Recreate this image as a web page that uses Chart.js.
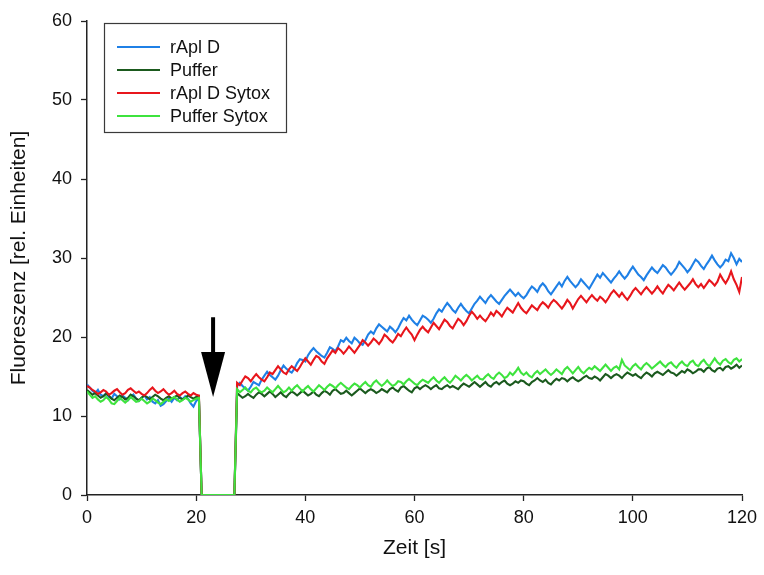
<!DOCTYPE html>
<html>
<head>
<meta charset="utf-8">
<script src="https://cdn.jsdelivr.net/npm/chart.js@4.4.1/dist/chart.umd.min.js"></script>
<style>
  html, body { margin: 0; padding: 0; background: #fff; }
  #wrap { width: 764px; height: 575px; }
</style>
</head>
<body>
<div id="wrap"><canvas id="c" width="764" height="575"></canvas></div>
<script>
// Fluorescence readings, one every 0.5 s from 0 to 120 s.
// 0–20.5 s baseline, 21–27 s addition (no signal), 27.5–120 s after addition.
const SAMPLE_STEP = 0.5;

const seriesLabels = ['rApl D', 'Puffer', 'rApl D Sytox', 'Puffer Sytox'];
const seriesColors = ['#1f80e6', '#1b5a1e', '#e8161c', '#3ee33e'];
const xTicks = [0, 20, 40, 60, 80, 100, 120];
const yTicks = [0, 10, 20, 30, 40, 50, 60];

const rAplD = [
  14.0, 13.6, 13.2, 12.9, 13.3, 12.7, 12.5, 12.9, 12.4, 12.2,
  12.8, 12.5, 12.1, 12.6, 12.3, 12.0, 12.4, 12.7, 12.2, 11.9,
  12.3, 12.6, 12.1, 12.4, 11.8, 11.6, 12.0, 11.3, 11.5, 11.9,
  12.2, 11.8, 12.3, 12.0, 12.4, 12.1, 12.5, 12.2, 11.6, 11.2,
  11.9, 12.3,
  0, 0, 0, 0, 0, 0, 0, 0, 0, 0, 0, 0, 0,
  13.8, 14.2, 13.8, 13.5, 13.2, 13.7, 14.3, 14.1, 13.9, 14.6,
  15.1, 15.6, 15.2, 14.9, 14.6, 15.1, 15.8, 16.4, 16.0, 15.7,
  15.5, 16.0, 16.7, 17.2, 17.1, 16.9, 17.7, 18.2, 18.6, 18.2,
  17.9, 17.6, 17.4, 18.0, 18.7, 18.5, 18.2, 18.8, 19.6, 19.4,
  19.9, 19.5, 19.2, 19.9, 19.6, 19.2, 19.0, 19.6, 20.3, 20.7,
  20.4, 21.1, 21.6, 21.3, 21.0, 20.7, 21.3, 21.0, 20.6, 21.1,
  21.8, 22.4, 22.1, 22.7, 22.2, 21.8, 21.5, 22.1, 22.7, 22.5,
  22.2, 21.8, 22.3, 23.0, 23.5, 23.2, 23.8, 24.3, 23.9, 23.4,
  23.1, 23.7, 24.2, 23.7, 23.3, 23.0, 23.6, 24.2, 24.6, 25.1,
  24.7, 24.3, 24.9, 25.3, 24.9, 24.5, 24.2, 24.7, 25.2, 25.6,
  26.0, 25.6, 25.2, 25.6, 25.2, 24.9, 25.3, 25.9, 26.4, 26.1,
  25.7, 26.4, 26.8, 26.4, 25.8, 25.4, 25.9, 26.4, 26.9, 26.4,
  27.1, 27.6, 27.1, 26.7, 26.3, 26.7, 27.3, 26.9, 26.5, 26.1,
  26.7, 27.3, 27.9, 27.5, 28.1, 27.7, 27.3, 26.9, 27.4, 27.8,
  28.3, 27.8, 27.4, 27.8, 28.4, 28.9, 28.4, 27.9, 27.6, 27.2,
  27.8, 28.3, 28.8, 28.4, 28.1, 28.6, 29.1, 28.8, 28.3, 27.9,
  28.3, 28.8, 29.5, 29.1, 28.7, 28.2, 28.6, 29.2, 29.8, 29.5,
  29.0, 28.6, 29.2, 29.7, 30.3, 29.7, 29.2, 28.8, 29.2, 29.8,
  29.6, 30.6, 30.0, 29.2, 29.9, 29.5
];

const puffer = [
  13.3, 13.0, 12.7, 12.9, 12.6, 12.3, 12.5, 12.8, 12.6, 12.2,
  12.0, 12.3, 12.6, 12.4, 12.1, 12.3, 12.7, 12.5, 12.2, 12.0,
  12.3, 12.6, 12.4, 12.1, 12.4, 12.7, 12.5, 12.2, 12.0, 12.3,
  12.5, 12.2, 12.4, 12.6, 12.3, 12.1, 12.3, 12.6, 12.4, 12.2,
  12.4, 12.5,
  0, 0, 0, 0, 0, 0, 0, 0, 0, 0, 0, 0, 0,
  12.9, 12.6, 12.3, 12.5, 12.8, 12.5, 12.3, 12.7, 13.0, 12.8,
  12.5, 12.8, 13.1, 12.8, 12.4, 12.7, 13.0, 12.6, 12.4, 12.8,
  13.1, 12.9, 12.6, 12.9, 13.2, 12.9, 12.6, 12.8, 13.1, 12.7,
  12.5, 12.9, 13.2, 13.0, 12.7, 13.2, 13.4, 13.1, 12.8, 12.9,
  13.2, 12.9, 12.6, 12.9, 13.2, 13.5, 13.2, 12.9, 13.2, 13.4,
  13.2, 12.9, 13.1, 13.4, 13.2, 13.0, 13.4, 13.6, 13.3, 13.1,
  13.6, 13.8, 13.5, 13.2, 13.0, 13.5, 13.7, 13.4, 13.7, 13.9,
  13.7, 13.4, 13.7, 13.9, 13.5, 13.4, 13.7, 13.9, 13.6, 13.8,
  13.6, 13.4, 13.8, 14.1, 13.9, 13.7, 14.0, 14.3, 14.0, 13.7,
  14.0, 14.3, 13.9, 13.7, 14.1, 14.3, 14.0, 14.3, 14.5, 14.1,
  13.9, 14.1, 14.4, 14.2, 14.5, 14.4, 14.1, 13.9, 14.3, 14.5,
  14.8, 14.5, 14.3, 14.6, 14.2, 14.0, 14.4, 14.7, 14.5, 14.8,
  14.7, 14.4, 14.7, 14.9, 14.6, 14.4, 14.6, 14.9, 15.1, 14.8,
  14.7, 15.0, 14.8, 14.5, 14.9, 15.3, 15.1, 14.8, 15.1, 15.3,
  15.1, 14.8, 15.2, 15.5, 15.3, 15.1, 15.3, 15.0, 14.8, 15.2,
  15.5, 15.3, 15.0, 15.4, 15.6, 15.4, 15.2, 15.5, 15.8, 15.5,
  15.4, 15.1, 15.4, 15.7, 15.5, 15.9, 15.7, 15.4, 15.6, 15.9,
  15.9, 15.6, 16.0, 16.2, 15.8, 15.6, 16.0, 16.1, 15.8, 16.2,
  16.3, 16.0, 16.2, 16.5, 16.1, 16.4
];

const rAplDSytox = [
  13.8, 13.6, 13.3, 13.1, 12.8, 13.0, 13.3, 13.1, 12.7, 12.9,
  13.2, 13.4, 13.0, 12.7, 12.9, 13.3, 13.5, 13.2, 12.9, 13.1,
  12.8, 12.6, 12.9, 13.3, 13.6, 13.2, 12.9, 13.1, 13.4, 13.0,
  12.7, 12.9, 13.2, 12.8, 12.6, 12.9, 13.1, 12.8, 12.6, 12.9,
  12.7, 12.6,
  0, 0, 0, 0, 0, 0, 0, 0, 0, 0, 0, 0, 0,
  14.2, 13.9, 14.5, 15.0, 14.8, 14.4, 14.9, 15.3, 14.9, 14.6,
  14.4, 14.9, 15.5, 15.3, 15.8, 16.3, 15.9, 15.5, 15.3, 15.9,
  16.3, 16.0, 15.7, 16.2, 16.8, 17.3, 16.9, 16.5, 17.1, 17.6,
  17.4, 16.9, 16.6, 17.3, 17.8, 18.3, 18.0, 18.6, 18.3, 17.9,
  18.3, 18.8, 18.4, 18.0, 18.5, 19.0, 19.6, 19.3, 18.9, 19.3,
  19.8, 19.5, 19.1, 19.6, 20.3, 20.0, 19.6, 19.3, 19.8, 20.4,
  20.1, 20.7, 21.2, 20.7, 20.3, 19.6, 20.3, 20.9, 21.3, 20.9,
  20.6, 21.2, 21.8, 21.4, 21.0, 21.6, 22.2, 21.9, 21.4, 21.1,
  21.7, 22.3, 22.0, 21.5, 22.0, 22.7, 23.2, 22.8, 22.3, 22.7,
  22.3, 22.0, 22.5, 23.1, 22.7, 23.3, 23.0, 22.6, 23.2, 23.7,
  23.4, 23.1, 23.7, 24.3, 23.7, 23.3, 23.0, 23.5, 24.0, 23.7,
  23.4, 24.0, 24.4, 24.1, 23.7, 24.3, 24.7, 24.4, 24.0, 23.6,
  24.1, 24.7, 24.3, 23.6, 24.2, 24.8, 25.2, 24.8, 24.4, 24.9,
  25.3, 24.9, 24.6, 25.1, 24.8, 24.4, 24.9, 25.5, 25.9, 25.5,
  25.1, 25.6, 25.1, 24.7, 25.2, 25.8, 26.2, 25.8, 25.4, 25.9,
  26.3, 25.9, 25.5, 25.9, 26.4, 25.9, 25.5, 26.1, 26.6, 26.3,
  25.9, 26.4, 26.9, 26.4, 26.0, 26.4, 26.8, 27.3, 26.7, 26.3,
  26.7, 26.2, 26.7, 27.2, 26.9, 26.5, 27.0, 27.9, 27.3, 26.8,
  27.4, 28.3, 27.3, 26.6, 25.7, 27.6
];

const pufferSytox = [
  13.1, 12.7, 12.3, 12.5, 12.1, 11.8, 12.0, 12.4, 12.1, 11.6,
  11.5, 11.9, 12.3, 12.0, 11.7, 12.0, 12.4, 12.1, 11.8, 11.9,
  12.2, 11.9, 11.6, 11.8, 12.2, 12.0, 11.7, 11.5, 11.8, 12.1,
  11.9, 12.2, 12.4, 12.1, 11.8, 12.0, 12.3, 12.1, 11.8, 12.0,
  12.2, 12.3,
  0, 0, 0, 0, 0, 0, 0, 0, 0, 0, 0, 0, 0,
  13.4, 13.0, 13.3, 13.6, 13.2, 13.0, 13.4, 13.6, 13.2, 13.0,
  13.2, 13.6, 13.3, 13.0, 13.4, 13.8, 13.4, 13.0, 13.2, 13.6,
  13.2, 13.6, 13.9, 13.5, 13.1, 13.5, 13.8, 13.4, 13.1, 13.5,
  13.9, 13.6, 13.3, 13.7, 14.0, 13.8, 13.5, 13.9, 14.2, 13.9,
  13.6, 13.4, 13.8, 14.1, 13.9, 13.6, 14.0, 14.3, 13.9, 13.7,
  14.2, 14.5, 14.1, 13.8, 14.1, 14.5, 14.1, 13.8, 14.0, 14.4,
  14.3, 14.0, 14.4, 14.7, 14.4, 14.1, 13.9, 14.3, 14.6, 14.4,
  14.2, 14.6, 14.9, 14.5, 14.2, 14.6, 14.9, 14.5, 14.2, 14.6,
  15.1, 14.8, 14.5, 14.9, 15.2, 14.9, 14.5, 14.8, 15.1, 14.7,
  14.6, 15.0, 15.3, 14.9, 14.7, 15.2, 15.5, 15.2, 14.8, 15.0,
  15.5, 15.2, 15.6, 16.1, 15.5, 15.2, 15.5, 15.1, 14.9, 15.4,
  15.7, 15.3, 15.6, 15.9, 15.5, 15.2, 15.5, 15.9, 15.6, 15.3,
  15.9, 16.2, 15.8, 15.4, 15.8, 16.2, 15.7, 15.4, 15.8, 16.1,
  15.9, 16.3, 16.0, 15.7, 16.1, 16.5, 16.1, 15.7, 16.1, 16.3,
  15.9, 17.1, 16.4, 16.1, 15.8, 16.3, 16.6, 16.2, 15.9, 16.4,
  16.7, 16.4, 16.0, 16.3, 16.6, 16.9, 16.5, 16.2, 16.6, 16.8,
  16.4, 16.1, 16.6, 16.9, 16.5, 16.3, 16.8, 17.0, 16.5, 16.3,
  16.8, 17.1, 16.6, 16.3, 16.8, 17.3, 16.8, 16.5, 17.0, 17.2,
  16.8, 16.6, 17.1, 17.3, 16.9, 17.2
];

// Marker for the moment of addition (time and fluorescence units)
const arrowTime = 23.1;
const arrowTail = 22.5;
const arrowHeadBase = 18.1;
const arrowTip = 12.4;

const FONT = 'Arial, "Liberation Sans", sans-serif';
const seriesValues = [rAplD, puffer, rAplDSytox, pufferSytox];

function toPoints(values) {
  return values.map((v, i) => ({ x: i * SAMPLE_STEP, y: v }));
}

const datasets = seriesValues.map((vals, i) => ({
  label: seriesLabels[i],
  data: toPoints(vals),
  borderColor: seriesColors[i],
  borderWidth: 2.1,
  pointRadius: 0,
  tension: 0,
  fill: false,
  order: seriesValues.length - i
}));

const arrowPlugin = {
  id: 'additionArrow',
  afterDatasetsDraw(chart) {
    const { ctx, scales: { x, y } } = chart;
    const cx = x.getPixelForValue(arrowTime);
    const yTail = y.getPixelForValue(arrowTail);
    const yBase = y.getPixelForValue(arrowHeadBase);
    const yTip = y.getPixelForValue(arrowTip);
    ctx.save();
    ctx.fillStyle = '#000';
    ctx.fillRect(cx - 2, yTail, 4, yBase - yTail + 1);
    ctx.beginPath();
    ctx.moveTo(cx - 12, yBase);
    ctx.lineTo(cx + 12, yBase);
    ctx.lineTo(cx, yTip);
    ctx.closePath();
    ctx.fill();
    ctx.restore();
  }
};

const legendBoxPlugin = {
  id: 'legendBox',
  afterDraw(chart) {
    const ctx = chart.ctx;
    const left = 104, top = 23, w = 182, h = 109;
    ctx.save();
    ctx.strokeStyle = '#3a3a3a';
    ctx.lineWidth = 1.2;
    ctx.strokeRect(left + 0.5, top + 0.5, w, h);
    ctx.font = '18px ' + FONT;
    ctx.textBaseline = 'middle';
    ctx.fillStyle = '#111';
    chart.data.datasets.forEach((ds, i) => {
      const rowY = top + 24 + i * 23;
      ctx.strokeStyle = ds.borderColor;
      ctx.lineWidth = 2;
      ctx.beginPath();
      ctx.moveTo(left + 13, rowY);
      ctx.lineTo(left + 56, rowY);
      ctx.stroke();
      ctx.fillText(ds.label, left + 66, rowY + 1);
    });
    ctx.restore();
  }
};

new Chart(document.getElementById('c'), {
  type: 'line',
  data: { datasets },
  options: {
    responsive: false,
    animation: false,
    events: [],
    layout: { padding: { left: 0, right: 22, top: 21, bottom: 0 } },
    plugins: { legend: { display: false }, tooltip: { enabled: false } },
    scales: {
      x: {
        type: 'linear',
        min: 0,
        max: 120,
        afterBuildTicks: s => { s.ticks = xTicks.map(v => ({ value: v })); },
        afterFit: s => { s.height = 80; },
        grid: { drawOnChartArea: false, tickLength: 6, tickColor: '#222', tickWidth: 1.3 },
        border: { color: '#222', width: 1.5 },
        ticks: { color: '#111', font: { family: FONT, size: 18 }, padding: 6, maxRotation: 0 },
        title: { display: true, text: 'Zeit [s]', color: '#111', font: { family: FONT, size: 21 }, padding: { top: 0, bottom: 14 } }
      },
      y: {
        min: 0,
        max: 60,
        afterBuildTicks: s => { s.ticks = yTicks.map(v => ({ value: v })); },
        afterFit: s => { s.width = 87; },
        grid: { drawOnChartArea: false, tickLength: 6, tickColor: '#222', tickWidth: 1.3 },
        border: { color: '#222', width: 1.5 },
        ticks: { color: '#111', font: { family: FONT, size: 18 }, padding: 9 },
        title: { display: true, text: 'Fluoreszenz [rel. Einheiten]', color: '#111', font: { family: FONT, size: 21 }, padding: { top: 7, bottom: 0 } }
      }
    }
  },
  plugins: [arrowPlugin, legendBoxPlugin]
});
</script>
</body>
</html>
